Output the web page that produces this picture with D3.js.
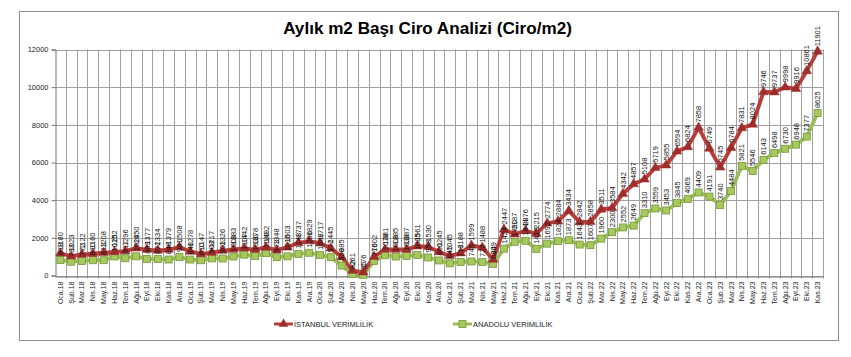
<!DOCTYPE html>
<html><head><meta charset="utf-8">
<script src="https://cdn.jsdelivr.net/npm/d3@7"></script>
<style>
body{margin:0;background:#fff;}
svg{display:block;font-family:"Liberation Sans",Arial,sans-serif;}
</style></head>
<body><svg id="c" width="851" height="357"></svg>
<script>
const categories = [
"Oca.18","Şub.18","Mar.18","Nis.18","May.18","Haz.18","Tem.18","Ağu.18","Eyl.18","Eki.18","Kas.18","Ara.18",
"Oca.19","Şub.19","Mar.19","Nis.19","May.19","Haz.19","Tem.19","Ağu.19","Eyl.19","Eki.19","Kas.19","Ara.19",
"Oca.20","Şub.20","Mar.20","Nis.20","May.20","Haz.20","Tem.20","Ağu.20","Eyl.20","Eki.20","Kas.20","Ara.20",
"Oca.21","Şub.21","Mar.21","Nis.21","May.21","Haz.21","Tem.21","Ağu.21","Eyl.21","Eki.21","Kas.21","Ara.21",
"Oca.22","Şub.22","Mar.22","Nis.22","May.22","Haz.22","Tem.22","Ağu.22","Eyl.22","Eki.22","Kas.22","Ara.22",
"Oca.23","Şub.23","Mar.23","Nis.23","May.23","Haz.23","Tem.23","Ağu.23","Eyl.23","Eki.23","Kas.23"];
const istanbul = [
1180,1023,1122,1160,1208,1252,1296,1450,1377,1334,1379,1508,
1278,1147,1217,1326,1383,1442,1378,1492,1348,1503,1737,1829,
1717,1445,985,261,176,1002,1381,1385,1387,1561,1530,1245,
1045,1188,1599,1488,849,2447,2187,2376,2215,2774,2884,3434,
2842,2858,3511,3584,4342,4857,5108,5719,5855,6594,6824,7858,
6749,5745,6784,7831,8024,9746,9737,9998,9916,10861,11901];
const anadolu = [
818,733,772,810,813,1015,917,1020,883,872,848,981,
848,810,908,903,1008,1107,1030,1189,973,1016,1148,1206,
1088,972,528,82,35,776,1078,1008,1038,1085,958,800,
645,718,745,722,620,1424,1790,1844,1415,1692,1824,1873,
1643,1607,1960,2300,2552,2649,3310,3559,3453,3845,4069,4409,
4191,3740,4484,5821,5546,6143,6498,6730,6948,7377,8625];
const yTicks = [0,2000,4000,6000,8000,10000,12000];
const title = "Aylık m2 Başı Ciro Analizi (Ciro/m2)";
const seriesNames = ["İSTANBUL VERİMLİLİK","ANADOLU VERİMLİLİK"];

const svg = d3.select("#c");
const L=55, R=823, T=49.5, B=275.5;
const RED="#B83C3A", RED_D="#9E2E2C", GRN="#9BBB59", GRN_D="#769636";

svg.append("rect").attr("x",19.5).attr("y",11.5).attr("width",819).attr("height",329)
  .attr("fill","#fff").attr("stroke","#8c8c8c").attr("stroke-width",1);

const x = d3.scaleBand().domain(categories).range([L,R]).paddingInner(0).paddingOuter(0);
const y = d3.scaleLinear().domain([0,12000]).range([B,T]);
const cx = d => x(d)+x.bandwidth()/2;

// gridlines
const grid = svg.append("g");
grid.selectAll("line.h").data(yTicks).join("line")
  .attr("x1",L).attr("x2",R).attr("y1",d=>Math.round(y(d))+0.5).attr("y2",d=>Math.round(y(d))+0.5)
  .attr("stroke","#a0a0a0").attr("stroke-width",1);
const bounds = categories.map(c=>x(c)).concat([R]);
grid.selectAll("line.v").data(bounds.slice(1)).join("line")
  .attr("x1",d=>Math.round(d)+0.5).attr("x2",d=>Math.round(d)+0.5).attr("y1",T).attr("y2",B+3)
  .attr("stroke","#a0a0a0").attr("stroke-width",1);

// y axis
const ya = svg.append("g").attr("transform",`translate(${L+0.5},0)`)
  .call(d3.axisLeft(y).tickValues(yTicks).tickSize(4).tickFormat(d3.format("d")));
ya.select(".domain").attr("stroke","#777");
ya.selectAll(".tick line").attr("stroke","#777");
ya.selectAll("text").attr("font-size",7.5).attr("fill","#222").attr("font-family","Liberation Sans, Arial");

// x axis
const xa = svg.append("g").attr("transform",`translate(0,${Math.round(B)+0.5})`)
  .call(d3.axisBottom(x).tickSize(0).tickPadding(0));
xa.select(".domain").attr("stroke","#777");
xa.selectAll(".tick text").attr("font-size",7).attr("fill","#222")
  .attr("text-anchor","end").attr("dy","0.35em").attr("transform","translate(0,5) rotate(-90)")
  .attr("x",0).attr("y",0);

// lines
const line = d3.line().x((d,i)=>cx(categories[i])).y(d=>y(d));
svg.append("path").datum(anadolu).attr("d",line).attr("fill","none").attr("stroke",GRN).attr("stroke-width",3.8).attr("stroke-linejoin","round");
svg.append("path").datum(istanbul).attr("d",line).attr("fill","none").attr("stroke",RED).attr("stroke-width",3.8).attr("stroke-linejoin","round");

// markers
svg.append("g").selectAll("rect").data(anadolu).join("rect")
  .attr("x",(d,i)=>cx(categories[i])-3.5).attr("y",d=>y(d)-3.5).attr("width",7).attr("height",7)
  .attr("fill","#A6C95E").attr("stroke",GRN_D).attr("stroke-width",0.8);
const tri = d3.symbol().type(d3.symbolTriangle).size(40);
svg.append("g").selectAll("path").data(istanbul).join("path")
  .attr("d",tri).attr("transform",(d,i)=>`translate(${cx(categories[i])},${y(d)})`)
  .attr("fill",RED_D).attr("stroke",RED_D).attr("stroke-width",0.5);

// data labels
function labels(data){
  svg.append("g").selectAll("text").data(data).join("text")
    .attr("transform",(d,i)=>`translate(${cx(categories[i])},${y(d)-5}) rotate(-90)`)
    .attr("dy","0.35em").attr("text-anchor","start").attr("font-size",7.5).attr("fill","#111")
    .text(d=>d);
}
labels(anadolu);
labels(istanbul);

// title
const tt = svg.append("text").attr("x",427.5).attr("y",34).attr("text-anchor","middle")
  .attr("font-weight","bold").attr("font-size",17).attr("fill","#000").text(title);
const w = tt.node().getComputedTextLength();
tt.attr("font-size",17*289/w);

// legend
const lg = svg.append("g");
[[274,RED,"tri"],[453,GRN,"sq"]].forEach((p,k)=>{
  const g = lg.append("g").attr("transform",`translate(${p[0]},324)`);
  g.append("line").attr("x1",0).attr("x2",19).attr("stroke",p[1]).attr("stroke-width",3);
  if(p[2]==="tri") g.append("path").attr("d",tri).attr("transform","translate(9.5,0)").attr("fill",RED_D);
  else g.append("rect").attr("x",6).attr("y",-3.5).attr("width",7).attr("height",7).attr("fill","#A6C95E").attr("stroke",GRN_D).attr("stroke-width",0.8);
  g.append("text").attr("x",20).attr("dy","0.35em").attr("font-size",7.5).attr("fill","#222").text(seriesNames[k]);
});
</script></body></html>
